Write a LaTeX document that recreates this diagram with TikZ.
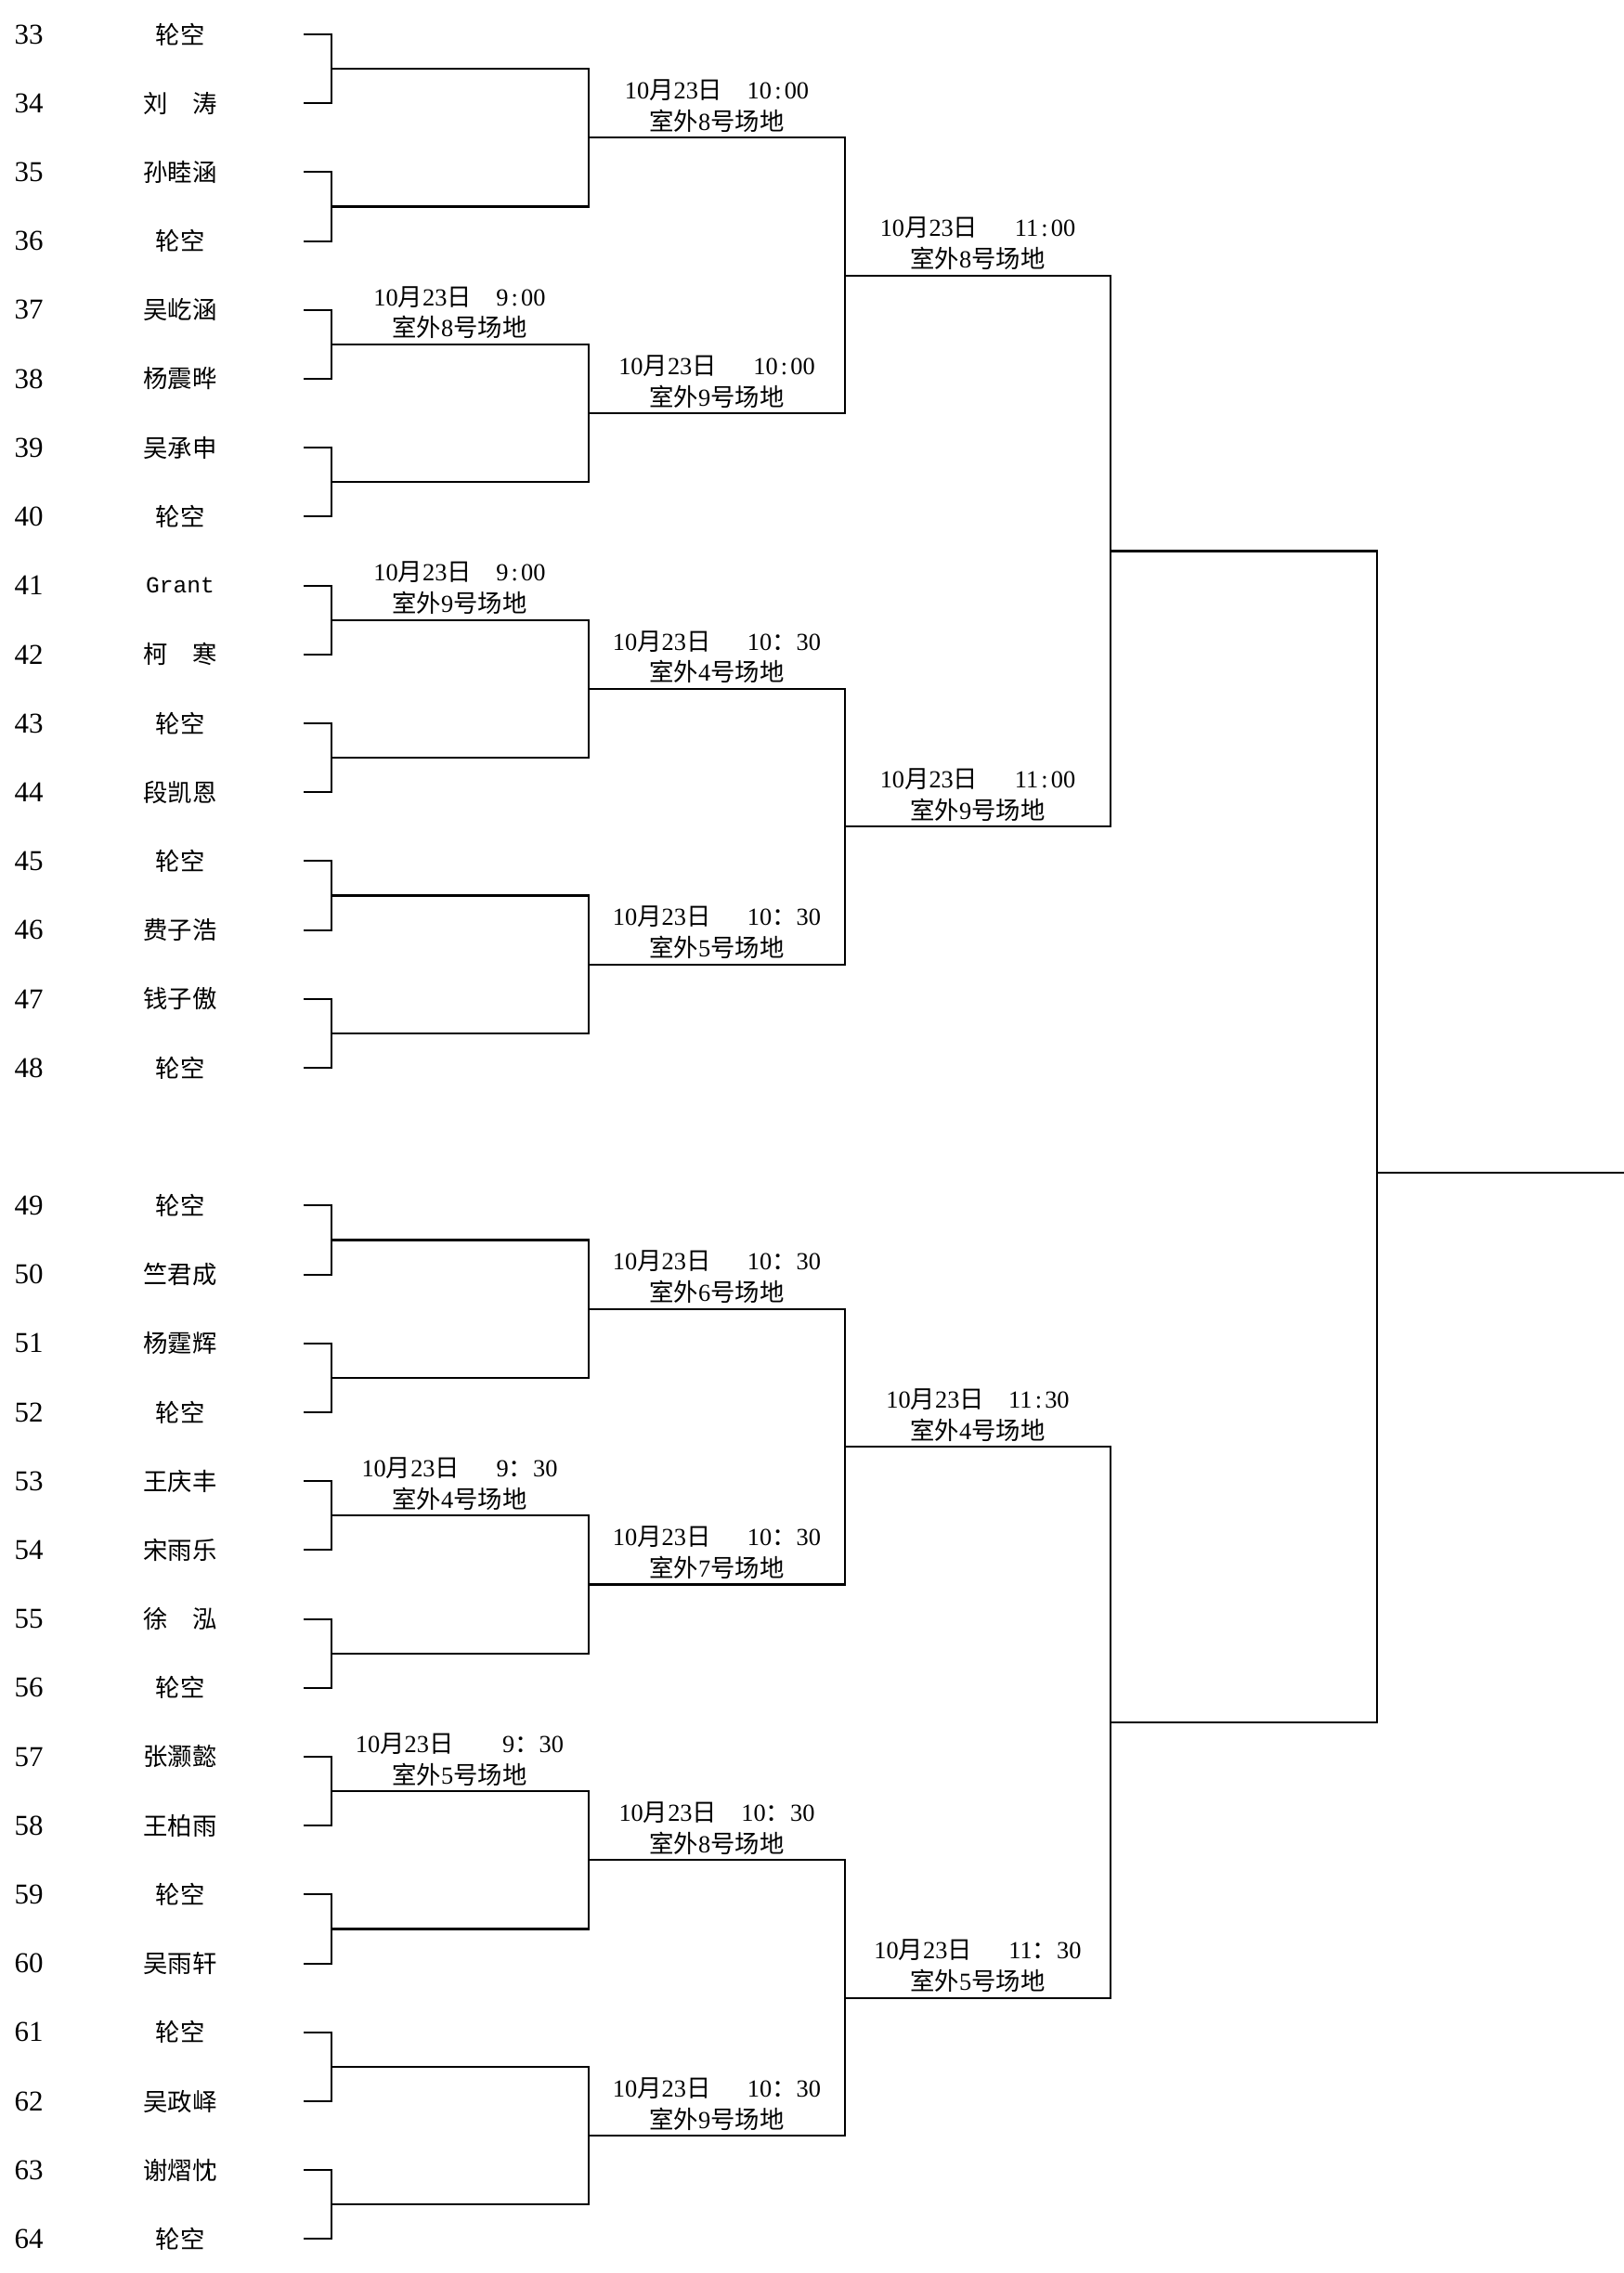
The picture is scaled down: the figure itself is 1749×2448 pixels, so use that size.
\documentclass[tikz,border=0pt]{standalone}
\usepackage{fontspec}
\setmainfont{Liberation Serif}
\setmonofont{Liberation Mono}
\newfontfamily\cjk{Noto Sans CJK SC}
\usetikzlibrary{calc}

\newcommand{\mh}{\kern.12em:\kern.12em}
\newcommand{\qm}{{\cjk ：}}
\newcommand{\riqi}[2]{10{\cjk 月}23{\cjk 日}\hspace{#1em}#2}
\newcommand{\changdi}[1]{{\cjk 室外}#1{\cjk 号场地}}

\tikzset{
  num/.style={font=\fontsize{8.8}{10}\selectfont, inner sep=0pt},
  player/.style={font=\cjk\fontsize{7.5}{9}\selectfont, inner sep=0pt},
  match/.style={anchor=south, align=center, inner sep=1.5pt, font=\fontsize{7.5}{9.6}\selectfont},
  wire/.style={line width=0.6pt}
}

\begin{document}
\begin{tikzpicture}[x=0.01cm, y=-0.01cm]
        \useasboundingbox (0,0) rectangle (1749,2448);

        % players
        \foreach \nr/\name in {33/轮空, 34/{刘\hspace{1em}涛}, 35/孙睦涵, 36/轮空,
                37/吴屹涵, 38/杨震晔, 39/吴承申, 40/轮空,
                41/{\ttfamily\fontsize{7}{9}\selectfont Grant}, 42/{柯\hspace{1em}寒}, 43/轮空, 44/段凯恩,
                45/轮空, 46/费子浩, 47/钱子傲, 48/轮空,
                49/轮空, 50/竺君成, 51/杨霆辉, 52/轮空,
                53/王庆丰, 54/宋雨乐, 55/{徐\hspace{1em}泓}, 56/轮空,
                57/张灏懿, 58/王柏雨, 59/轮空, 60/吴雨轩,
                61/轮空, 62/吴政峄, 63/谢熠忱, 64/轮空} {
            \pgfmathsetmacro{\yy}{37+74.2*(\nr-33+(\nr>48))}
            \node[num] (n\nr) at (31,\yy) {\nr};
            \node[player] (p\nr) at (194,\yy) {\name};
            \coordinate (t\nr) at (327,\yy);
        }

        % first round
        \foreach \kk in {1,...,16} {
            \pgfmathtruncatemacro{\ka}{31+2*\kk}
            \pgfmathtruncatemacro{\kb}{32+2*\kk}
            \coordinate (a\kk) at ($(t\ka)!0.5!(t\kb)+(30,0)$);
            \draw[wire] (t\ka) -| (a\kk) |- (t\kb);
        }

        % later rounds
        \foreach \kk in {1,...,8} {
            \pgfmathtruncatemacro{\ka}{2*\kk-1}
            \pgfmathtruncatemacro{\kb}{2*\kk}
            \coordinate (b\kk) at ($(a\ka)!0.5!(a\kb)+(277,0)$);
            \draw[wire] (a\ka) -| (b\kk) |- (a\kb);
        }
        \foreach \kk in {1,...,4} {
            \pgfmathtruncatemacro{\ka}{2*\kk-1}
            \pgfmathtruncatemacro{\kb}{2*\kk}
            \coordinate (c\kk) at ($(b\ka)!0.5!(b\kb)+(276,0)$);
            \draw[wire] (b\ka) -| (c\kk) |- (b\kb);
        }
        \foreach \kk in {1,2} {
            \pgfmathtruncatemacro{\ka}{2*\kk-1}
            \pgfmathtruncatemacro{\kb}{2*\kk}
            \coordinate (d\kk) at ($(c\ka)!0.5!(c\kb)+(286,0)$);
            \draw[wire] (c\ka) -| (d\kk) |- (c\kb);
        }

        % final
        \coordinate (f) at (1483,1263);
        \coordinate (win) at (1749,1263);
        \draw[wire] (d1) -| (f) |- (d2);
        \draw[wire] (f) -- (win);

        % match times and courts
        \foreach \m/\dx/\gap/\tm/\fld in {a3/138/1/9\mh00/8, a5/138/1/9\mh00/9,
                a11/138/1.5/9\qm30/4, a13/138/2/9\qm30/5,
                b1/138/1/10\mh00/8, b2/138/1.5/10\mh00/9, b3/138/1.5/10\qm30/4, b4/138/1.5/10\qm30/5,
                b5/138/1.5/10\qm30/6, b6/138/1.5/10\qm30/7, b7/138/1/10\qm30/8, b8/138/1.5/10\qm30/9,
                c1/143/1.5/11\mh00/8, c2/143/1.5/11\mh00/9, c3/143/1/11\mh30/4, c4/143/1.5/11\qm30/5}
            \node[match] (s\m) at ($(\m)+(\dx,0)$) {\riqi{\gap}{\tm}\\\changdi{\fld}};
\end{tikzpicture}
\end{document}
